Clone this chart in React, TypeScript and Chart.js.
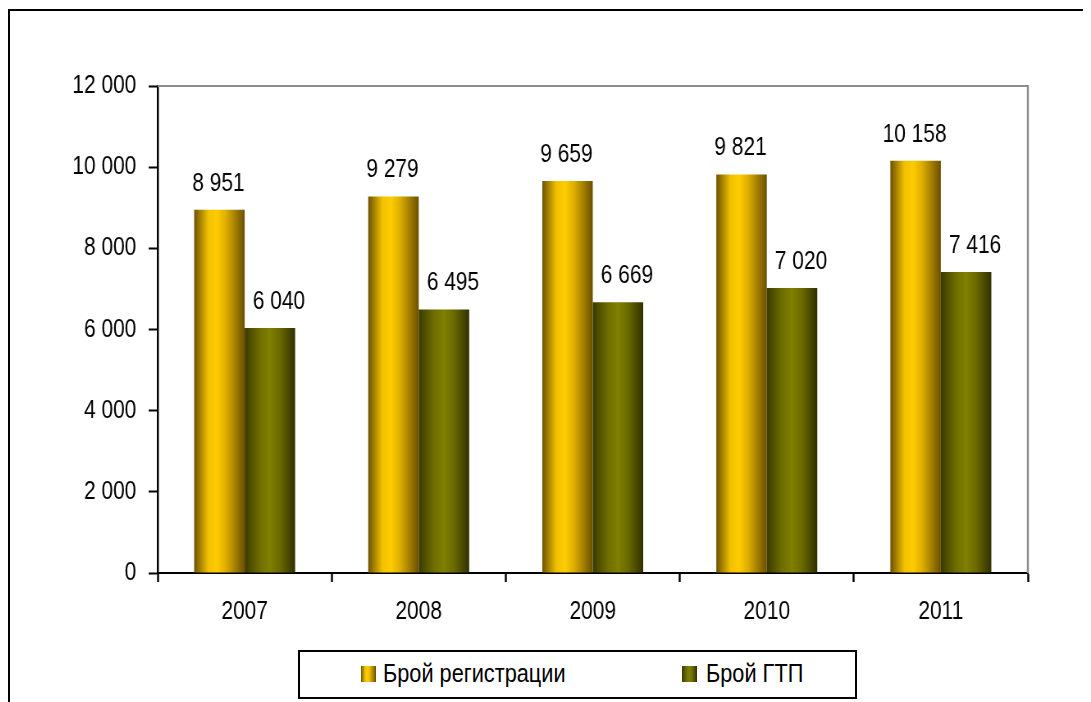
import React, { useEffect, useRef } from "react";
import { Chart, registerables } from "chart.js";

Chart.register(...registerables);

const categories = ["2007", "2008", "2009", "2010", "2011"];
const registrations = [8951, 9279, 9659, 9821, 10158];
const gtp = [6040, 6495, 6669, 7020, 7416];
const seriesNames = ["Брой регистрации", "Брой ГТП"];
const yMax = 12000;
const yStep = 2000;

const FONT = "'Liberation Sans', Arial, sans-serif";
const FONT_SIZE = 25.5;
const LEGEND_FONT_SIZE = 26.5;
const CAT_PCT = 0.58;
// Canvas is drawn wider and squeezed horizontally to mimic a narrow typeface.
const VIEW_W = 1081;
const CANVAS_W = 1318;
const SX = VIEW_W / CANVAS_W;

const fmt = (v: number) => String(v).replace(/\B(?=(\d{3})+(?!\d))/g, " ");

const goldStops: [number, string][] = [
  [0, "#6e5200"],
  [0.28, "#f2c200"],
  [0.45, "#ffcc00"],
  [0.62, "#e0b000"],
  [1, "#6a5000"],
];
const greenStops: [number, string][] = [
  [0, "#3a3a00"],
  [0.3, "#6e6e00"],
  [0.5, "#808000"],
  [0.7, "#6a6a00"],
  [1, "#303000"],
];

function barGradient(ctx: any, stops: [number, string][], fallback: string) {
  const chart = ctx.chart;
  if (!chart.chartArea || ctx.type !== "data") return fallback;
  const xs = chart.scales.x;
  const n = categories.length;
  const center = xs.getPixelForValue(ctx.dataIndex);
  const catW = xs.width / n;
  const groupW = catW * CAT_PCT;
  const barW = groupW / 2;
  const left = center - groupW / 2 + ctx.datasetIndex * barW;
  const g = chart.ctx.createLinearGradient(left, 0, left + barW, 0);
  stops.forEach(([o, c]) => g.addColorStop(o, c));
  return g;
}

const labelPlugin = {
  id: "valueLabels",
  afterDatasetsDraw(chart: any) {
    const c = chart.ctx;
    c.save();
    c.font = `${FONT_SIZE}px ${FONT}`;
    c.fillStyle = "#000";
    c.textAlign = "center";
    c.textBaseline = "alphabetic";
    chart.data.datasets.forEach((ds: any, di: number) => {
      const meta = chart.getDatasetMeta(di);
      meta.data.forEach((el: any, i: number) => {
        const dx = (di === 0 ? -1 : 9) / SX;
        c.fillText(fmt(ds.data[i]), el.x + dx, el.y - 19);
      });
    });
    c.restore();
  },
};

const borderPlugin = {
  id: "areaBorder",
  afterDraw(chart: any) {
    const { left, right, top, bottom } = chart.chartArea;
    const c = chart.ctx;
    c.save();
    c.strokeStyle = "#8c8c8c";
    c.lineWidth = 2;
    c.beginPath();
    c.moveTo(left, top);
    c.lineTo(right, top);
    c.stroke();
    c.lineWidth = 2 / SX;
    c.beginPath();
    c.moveTo(right, top - 1);
    c.lineTo(right, bottom);
    c.stroke();
    c.restore();
  },
};

function swatch(stops: [number, string][]) {
  return `linear-gradient(to right, ${stops.map(([o, c]) => `${c} ${o * 100}%`).join(", ")})`;
}

export default function App() {
  const ref = useRef<HTMLCanvasElement | null>(null);

  useEffect(() => {
    if (!ref.current) return;
    const chart = new Chart(ref.current, {
      type: "bar",
      data: {
        labels: categories,
        datasets: [
          {
            label: seriesNames[0],
            data: registrations,
            backgroundColor: (ctx: any) => barGradient(ctx, goldStops, "#ffcc00"),
            borderWidth: 0,
            categoryPercentage: CAT_PCT,
            barPercentage: 1,
          },
          {
            label: seriesNames[1],
            data: gtp,
            backgroundColor: (ctx: any) => barGradient(ctx, greenStops, "#808000"),
            borderWidth: 0,
            categoryPercentage: CAT_PCT,
            barPercentage: 1,
          },
        ],
      },
      options: {
        animation: false,
        responsive: false,
        maintainAspectRatio: false,
        layout: { padding: { left: 0, right: 77, top: 75, bottom: 0 } },
        plugins: {
          legend: { display: false },
          tooltip: { enabled: false },
        },
        scales: {
          x: {
            grid: {
              display: true,
              drawOnChartArea: false,
              drawTicks: true,
              tickLength: 9,
              tickWidth: 2 / SX,
              tickColor: "#000",
              offset: true,
            },
            border: { display: true, color: "#000", width: 2 },
            ticks: { color: "#000", font: { family: FONT, size: FONT_SIZE }, padding: 15 },
            afterFit(scale: any) {
              scale.height = 67;
            },
          },
          y: {
            min: 0,
            max: yMax,
            grid: {
              display: true,
              drawOnChartArea: false,
              drawTicks: true,
              tickLength: 11,
              tickWidth: 2,
              tickColor: "#000",
            },
            border: { display: true, color: "#000", width: 2 / SX },
            ticks: {
              stepSize: yStep,
              color: "#000",
              font: { family: FONT, size: FONT_SIZE },
              padding: 15,
              callback: (v: any) => fmt(Number(v)),
            },
            afterFit(scale: any) {
              scale.width = 180;
            },
          },
        },
      },
      plugins: [labelPlugin, borderPlugin],
    });
    return () => chart.destroy();
  }, []);

  const legendText: React.CSSProperties = {
    position: "absolute",
    top: 6,
    display: "inline-block",
    whiteSpace: "nowrap",
    fontFamily: FONT,
    fontSize: LEGEND_FONT_SIZE,
    color: "#000",
    lineHeight: "30px",
    transform: `scaleX(${SX})`,
    transformOrigin: "left top",
  };

  return (
    <div
      style={{
        position: "relative",
        marginTop: 1,
        width: VIEW_W,
        height: 691,
        borderTop: "2px solid #000",
        borderLeft: "2px solid #000",
        overflow: "hidden",
      }}
    >
      <canvas
        ref={ref}
        width={CANVAS_W}
        height={629}
        style={{
          position: "absolute",
          left: 0,
          top: 0,
          transform: `scaleX(${SX})`,
          transformOrigin: "left top",
        }}
      />
      <div
        style={{
          position: "absolute",
          left: 288,
          top: 639,
          width: 555,
          height: 45,
          border: "2px solid #000",
          boxSizing: "content-box",
        }}
      >
        <span style={{ position: "absolute", left: 61, top: 14, width: 15, height: 16, background: swatch(goldStops) }} />
        <span style={{ ...legendText, left: 83 }}>{seriesNames[0]}</span>
        <span style={{ position: "absolute", left: 382, top: 14, width: 15, height: 16, background: swatch(greenStops) }} />
        <span style={{ ...legendText, left: 406 }}>{seriesNames[1]}</span>
      </div>
    </div>
  );
}
